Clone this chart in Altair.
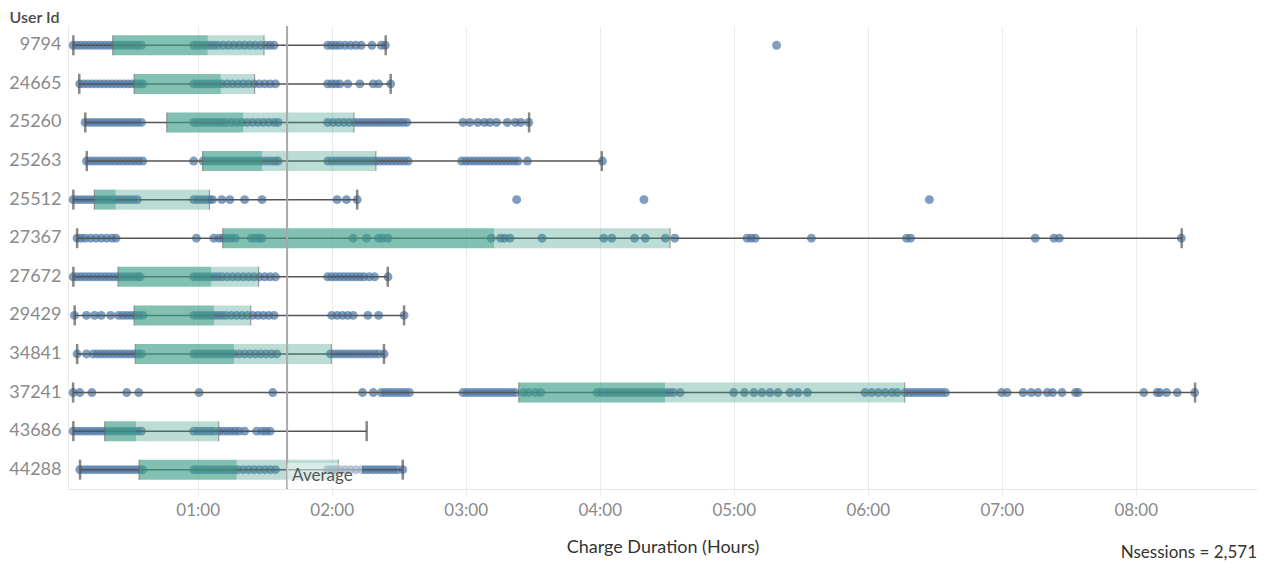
import altair as alt
import pandas as pd

users = ["9794", "24665", "25260", "25263", "25512", "27367",
         "27672", "29429", "34841", "37241", "43686", "44288"]

# box-plot statistics, in hours
lo  = [0.072, 0.116, 0.161, 0.172, 0.072, 0.100, 0.072, 0.082, 0.100, 0.070, 0.072, 0.122]
q1  = [0.366, 0.525, 0.769, 1.037, 0.228, 1.187, 0.405, 0.525, 0.534, 3.396, 0.306, 0.562]
med = [1.075, 1.172, 1.340, 1.480, 0.388, 3.211, 1.101, 1.122, 1.271, 4.487, 0.540, 1.291]
q3  = [1.495, 1.425, 2.166, 2.330, 1.087, 4.525, 1.455, 1.396, 1.997, 6.276, 1.157, 2.049]
hi  = [2.403, 2.440, 3.473, 4.015, 2.190, 8.343, 2.418, 2.540, 2.390, 8.443, 2.261, 2.530]

avg_hours = 1.667

# individual charge sessions (hours), per user
d_9794 = [0.07, 0.1, 0.13, 0.16, 0.19, 0.22, 0.25, 0.28, 0.31, 0.34, 0.37, 0.4, 0.43, 0.46, 0.49, 0.52, 0.55, 0.58,
          0.97, 1.0, 1.03, 1.06, 1.09, 1.12, 1.15, 1.19, 1.23, 1.27, 1.31, 1.35, 1.39, 1.43, 1.47, 1.51, 1.54, 1.57,
          1.97, 2.0, 2.03, 2.06, 2.1, 2.14, 2.18, 2.22, 2.3, 2.37, 2.4, 5.32]
d_24665 = [0.12, 0.15, 0.18, 0.21, 0.24, 0.27, 0.3, 0.33, 0.36, 0.39, 0.42, 0.45, 0.48, 0.51, 0.54, 0.57, 0.59,
           0.97, 1.0, 1.03, 1.06, 1.09, 1.12, 1.15, 1.18, 1.22, 1.26, 1.3, 1.34, 1.38, 1.42, 1.46, 1.5, 1.54, 1.58,
           1.97, 2.0, 2.03, 2.06, 2.12, 2.21, 2.31, 2.35, 2.44]
d_25260 = [0.16, 0.19, 0.22, 0.25, 0.28, 0.31, 0.34, 0.37, 0.4, 0.43, 0.46, 0.49, 0.52, 0.55, 0.58,
           0.97, 1.0, 1.03, 1.06, 1.09, 1.12, 1.15, 1.18, 1.21, 1.25, 1.29, 1.33, 1.37, 1.41, 1.45, 1.49, 1.53, 1.57, 1.6,
           1.97, 2.01, 2.05, 2.09, 2.13, 2.17, 2.2, 2.23, 2.26, 2.29, 2.32, 2.35, 2.38, 2.41, 2.44, 2.47, 2.5, 2.53, 2.56,
           2.98, 3.03, 3.09, 3.14, 3.18, 3.23, 3.31, 3.37, 3.41, 3.47]
d_25263 = [0.17, 0.2, 0.23, 0.26, 0.29, 0.32, 0.35, 0.38, 0.41, 0.44, 0.47, 0.5, 0.53, 0.56, 0.59,
           0.97, 1.04, 1.07, 1.1, 1.13, 1.16, 1.19, 1.22, 1.25, 1.28, 1.31, 1.34, 1.37, 1.4, 1.43, 1.46, 1.49, 1.52, 1.55, 1.58, 1.6,
           1.97, 2.0, 2.03, 2.06, 2.09, 2.12, 2.15, 2.18, 2.21, 2.24, 2.27, 2.3, 2.33, 2.36, 2.39, 2.42, 2.45, 2.48, 2.51, 2.54, 2.57,
           2.97, 3.0, 3.03, 3.06, 3.09, 3.12, 3.15, 3.18, 3.21, 3.24, 3.27, 3.3, 3.33, 3.36, 3.39, 3.46, 4.02]
d_25512 = [0.07, 0.1, 0.13, 0.16, 0.19, 0.22, 0.25, 0.28, 0.31, 0.34, 0.37, 0.4, 0.43, 0.46, 0.49, 0.52, 0.55,
           0.97, 1.0, 1.03, 1.06, 1.09, 1.11, 1.18, 1.24, 1.35, 1.48,
           2.04, 2.11, 2.19, 3.38, 4.33, 6.46]
d_27367 = [0.1, 0.13, 0.16, 0.2, 0.24, 0.28, 0.32, 0.36, 0.39, 0.99, 1.12, 1.16, 1.19, 1.22, 1.25, 1.28,
           1.4, 1.43, 1.46, 1.48, 2.16, 2.26, 2.35, 2.38, 2.42,
           3.19, 3.26, 3.29, 3.33, 3.57, 4.03, 4.09, 4.26, 4.34, 4.49, 4.56,
           5.1, 5.13, 5.16, 5.58, 6.29, 6.32, 7.25, 7.39, 7.43, 8.34]
d_27672 = [0.07, 0.1, 0.13, 0.16, 0.19, 0.22, 0.25, 0.28, 0.31, 0.34, 0.37, 0.4, 0.43, 0.46, 0.49, 0.52, 0.55, 0.57,
           0.97, 1.0, 1.03, 1.06, 1.09, 1.12, 1.15, 1.18, 1.22, 1.26, 1.3, 1.34, 1.38, 1.42, 1.46, 1.5, 1.54, 1.58,
           1.97, 2.0, 2.03, 2.06, 2.09, 2.12, 2.15, 2.18, 2.21, 2.24, 2.28, 2.32, 2.42]
d_29429 = [0.08, 0.17, 0.23, 0.28, 0.35, 0.41, 0.44, 0.47, 0.5, 0.53, 0.56, 0.59,
           0.97, 1.0, 1.03, 1.06, 1.09, 1.12, 1.15, 1.18, 1.21, 1.25, 1.29, 1.33, 1.37, 1.41, 1.45, 1.49, 1.53, 1.57,
           2.0, 2.04, 2.08, 2.12, 2.16, 2.27, 2.35, 2.54]
d_34841 = [0.1, 0.17, 0.22, 0.25, 0.28, 0.31, 0.34, 0.37, 0.4, 0.43, 0.46, 0.49, 0.52, 0.55, 0.58,
           0.97, 1.0, 1.03, 1.06, 1.09, 1.12, 1.15, 1.18, 1.21, 1.24, 1.27, 1.31, 1.35, 1.39, 1.43, 1.47, 1.51, 1.55, 1.59,
           1.99, 2.02, 2.05, 2.08, 2.11, 2.14, 2.17, 2.2, 2.23, 2.26, 2.29, 2.32, 2.35, 2.39]
d_37241 = [0.07, 0.12, 0.21, 0.47, 0.56, 1.01, 1.56, 2.23, 2.31, 2.37, 2.4, 2.43, 2.46, 2.49, 2.52, 2.55, 2.58,
           2.98, 3.01, 3.04, 3.07, 3.1, 3.13, 3.16, 3.19, 3.22, 3.25, 3.28, 3.31, 3.34, 3.37,
           3.43, 3.47, 3.52, 3.56,
           3.98, 4.01, 4.04, 4.07, 4.1, 4.13, 4.16, 4.19, 4.22, 4.25, 4.28, 4.31, 4.34, 4.37, 4.4, 4.43, 4.46, 4.49,
           4.52, 4.55, 4.6,
           5.0, 5.08, 5.15, 5.21, 5.27, 5.33, 5.42, 5.48, 5.55,
           5.98, 6.03, 6.08, 6.13, 6.18, 6.22, 6.28, 6.31, 6.34, 6.37, 6.4, 6.43, 6.46, 6.49, 6.52, 6.55, 6.58,
           7.0, 7.04, 7.16, 7.22, 7.27, 7.34, 7.38, 7.45, 7.55, 7.57, 8.06, 8.16, 8.18, 8.23, 8.31, 8.44]
d_43686 = [0.07, 0.1, 0.13, 0.16, 0.19, 0.22, 0.25, 0.28, 0.31, 0.34, 0.37, 0.4, 0.43, 0.46, 0.49, 0.52, 0.55, 0.58,
           0.97, 1.0, 1.03, 1.06, 1.09, 1.12, 1.16, 1.19, 1.22, 1.25, 1.28, 1.31, 1.35, 1.44, 1.48, 1.51, 1.54]
d_44288 = [0.12, 0.15, 0.18, 0.21, 0.24, 0.27, 0.3, 0.33, 0.36, 0.39, 0.42, 0.45, 0.48, 0.51, 0.54, 0.57, 0.59,
           0.97, 1.0, 1.03, 1.06, 1.09, 1.12, 1.15, 1.18, 1.21, 1.24, 1.27, 1.3, 1.34, 1.38, 1.42, 1.46, 1.5, 1.54, 1.58,
           1.97, 2.0, 2.03, 2.06, 2.1, 2.14, 2.18, 2.22, 2.25, 2.28, 2.31, 2.34, 2.37, 2.4, 2.43, 2.46, 2.49, 2.53]

dot_lists = [d_9794, d_24665, d_25260, d_25263, d_25512, d_27367,
             d_27672, d_29429, d_34841, d_37241, d_43686, d_44288]

hour_ticks = [1, 2, 3, 4, 5, 6, 7, 8]

stats = pd.DataFrame({"user": users, "lo": lo, "q1": q1, "med": med, "q3": q3, "hi": hi})
pts = pd.DataFrame([{"user": u, "hours": h} for u, arr in zip(users, dot_lists) for h in arr])
avg = pd.DataFrame({"avg": [avg_hours], "label": ["Average"]})

FONT = "Lato"
xscale = alt.Scale(domain=[0.032, 8.905], nice=False, zero=False)
yscale = alt.Scale(paddingInner=0, paddingOuter=0)

xaxis = alt.Axis(values=hour_ticks, labelExpr="'0' + datum.value + ':00'",
                 title="Charge Duration (Hours)", titleFontSize=18, titleFontWeight="normal",
                 titleColor="#333333", titlePadding=20, labelFontSize=17, labelColor="#8a8a8a",
                 labelPadding=7, ticks=True, tickColor="#ebebeb", tickSize=6,
                 domainColor="#e8e8e8", gridColor="#ececec", grid=True)
yaxis = alt.Axis(title="User Id", titleAngle=0, titleAlign="left", titleBaseline="middle",
                 titleX=-59, titleY=-9, titleFontSize=16, titleFontWeight=600, titleColor="#4a4a4a",
                 labelFontSize=18, labelColor="#8a8a8a", labelPadding=7, ticks=False,
                 domainColor="#e8e8e8", grid=False)


def X(field):
    return alt.X(field, scale=xscale, axis=xaxis)


Y = alt.Y("user:N", sort=users, scale=yscale, axis=yaxis)

dots = alt.Chart(pts).mark_circle(size=80, color="#4e79a7", opacity=0.72).encode(
    x=X("hours:Q"), y=Y)

base = alt.Chart(stats)
whisker = base.mark_rule(color="#555555", strokeWidth=1.5).encode(x=X("lo:Q"), x2="hi:Q", y=Y)
box_dark = base.mark_bar(size=20, color="#3f9e87", opacity=0.65).encode(x=X("q1:Q"), x2="med:Q", y=Y)
box_light = base.mark_bar(size=20, color="#3f9e87", opacity=0.35).encode(x=X("med:Q"), x2="q3:Q", y=Y)
edge_q1 = base.mark_tick(color="#666666", thickness=1, size=20).encode(x=X("q1:Q"), y=Y)
edge_q3 = base.mark_tick(color="#666666", thickness=1, size=20).encode(x=X("q3:Q"), y=Y)
cap_lo = base.mark_tick(color="#555555", thickness=2.5, size=20).encode(x=X("lo:Q"), y=Y)
cap_hi = base.mark_tick(color="#555555", thickness=2.5, size=20).encode(x=X("hi:Q"), y=Y)

avg_line = alt.Chart(avg).mark_rule(color="#a8a8a8", strokeWidth=2).encode(x=X("avg:Q"))
avg_bg = alt.Chart(avg).mark_rect(color="white", opacity=0.45).encode(
    x=X("avg:Q"), x2=alt.value(294), y=alt.value(437), y2=alt.value(462))
avg_text = alt.Chart(avg).mark_text(align="left", baseline="middle", dx=5, fontSize=17,
                                    color="#555555", font=FONT).encode(
    x=X("avg:Q"), y=alt.value(450), text="label:N")

chart = alt.layer(dots, whisker, box_dark, box_light, edge_q1, edge_q3, cap_lo, cap_hi,
                  avg_line, avg_bg, avg_text).properties(
    width=1189, height=463,
    title=alt.TitleParams(text="Nsessions = 2,571", orient="bottom", anchor="end",
                          fontSize=17, fontWeight="normal", color="#333333", font=FONT, offset=-11),
    autosize=alt.AutoSizeParams(type="none"),
    padding={"left": 60, "top": 18, "right": 5, "bottom": 74},
).configure(font=FONT).configure_view(stroke=None)

chart.save("out.html", embed_options={"renderer": "svg", "actions": False})
